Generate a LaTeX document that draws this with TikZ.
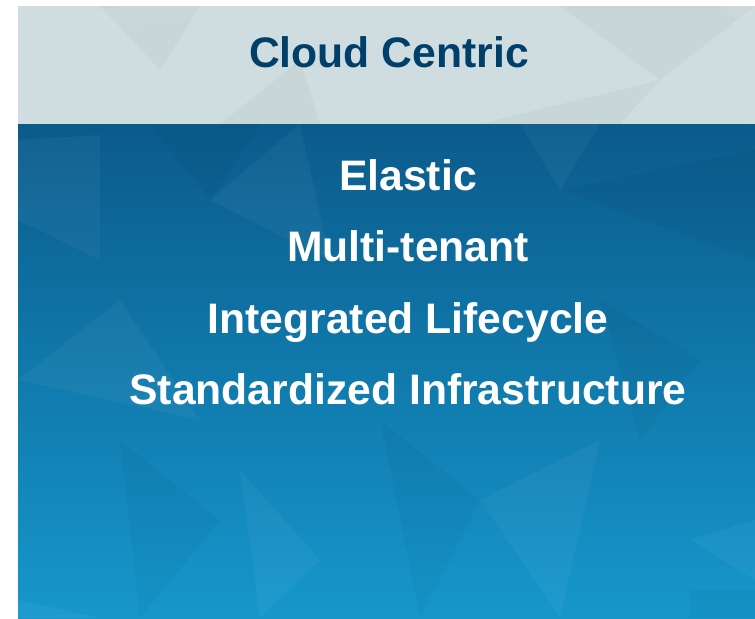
\documentclass[tikz,border=0pt]{standalone}
\usepackage{fontspec}
\setmainfont{Liberation Sans}
\definecolor{toppanel}{HTML}{D0DDE0}
\definecolor{titleblue}{HTML}{013F6B}
\definecolor{bluetop}{HTML}{0B5B8B}
\definecolor{bluebot}{HTML}{1697CC}
\tikzset{
  heading/.style={anchor=base, font=\bfseries\fontsize{32}{38}\selectfont, text=titleblue, inner sep=0pt},
  item/.style={anchor=base, font=\bfseries\fontsize{32}{38}\selectfont, text=white, inner sep=0pt},
  facetlight/.style={fill=white, fill opacity=0.04, draw=none},
  facetdark/.style={fill=black, fill opacity=0.03, draw=none}
}
\begin{document}
\begin{tikzpicture}[x=0.75pt,y=-0.75pt]
\useasboundingbox (0,0) rectangle (755,618);
% top panel
\fill[toppanel] (18,6) rectangle (755,124);
\begin{scope}
\clip (18,6) rectangle (755,124);
\fill[facetlight] (18,40) -- (120,6) -- (300,6) -- cycle;
\fill[facetdark] (100,6) -- (160,70) -- (200,6) -- cycle;
\fill[facetlight] (18,110) -- (250,90) -- (18,124) -- cycle;
\fill[facetdark] (220,124) -- (300,60) -- (320,124) -- cycle;
\fill[facetlight] (380,6) -- (470,70) -- (560,6) -- cycle;
\fill[facetdark] (560,6) -- (660,80) -- (755,6) -- cycle;
\fill[facetlight] (660,80) -- (755,40) -- (755,124) -- cycle;
\fill[facetdark] (480,124) -- (660,80) -- (620,124) -- cycle;
\fill[facetlight] (720,6) -- (755,6) -- (755,35) -- cycle;
\end{scope}
% bottom panel
\shade[top color=bluetop, bottom color=bluebot] (18,124) rectangle (755,618);
\begin{scope}
\clip (18,124) rectangle (755,618);
\fill[facetlight] (18,140) -- (100,135) -- (100,260) -- (18,220) -- cycle;
\fill[facetdark] (150,124) -- (210,200) -- (260,124) -- cycle;
\fill[facetlight] (210,200) -- (300,124) -- (330,260) -- cycle;
\fill[facetlight] (520,124) -- (560,190) -- (600,124) -- cycle;
\fill[facetdark] (560,190) -- (755,150) -- (755,260) -- cycle;
\fill[facetlight] (18,380) -- (120,300) -- (200,420) -- cycle;
\fill[facetdark] (120,440) -- (220,520) -- (140,618) -- cycle;
\fill[facetlight] (240,470) -- (320,560) -- (260,618) -- cycle;
\fill[facetdark] (380,420) -- (480,500) -- (420,618) -- cycle;
\fill[facetlight] (480,500) -- (600,440) -- (560,618) -- cycle;
\fill[facetlight] (690,540) -- (755,520) -- (755,580) -- cycle;
\fill[facetdark] (690,590) -- (755,590) -- (755,618) -- (690,618) -- cycle;
\fill[facetlight] (18,600) -- (100,618) -- (18,618) -- cycle;
\fill[facetdark] (600,300) -- (700,360) -- (640,440) -- cycle;
\end{scope}
% texts
\node[heading] (title) at (389,67) {Cloud Centric};
\node[item] (elastic) at (408,190) {Elastic};
\node[item] (multi) at (408,261) {Multi-tenant};
\node[item] (integrated) at (408,333) {Integrated Lifecycle};
\node[item] (standard) at (408,404) {Standardized Infrastructure};
\end{tikzpicture}
\end{document}
